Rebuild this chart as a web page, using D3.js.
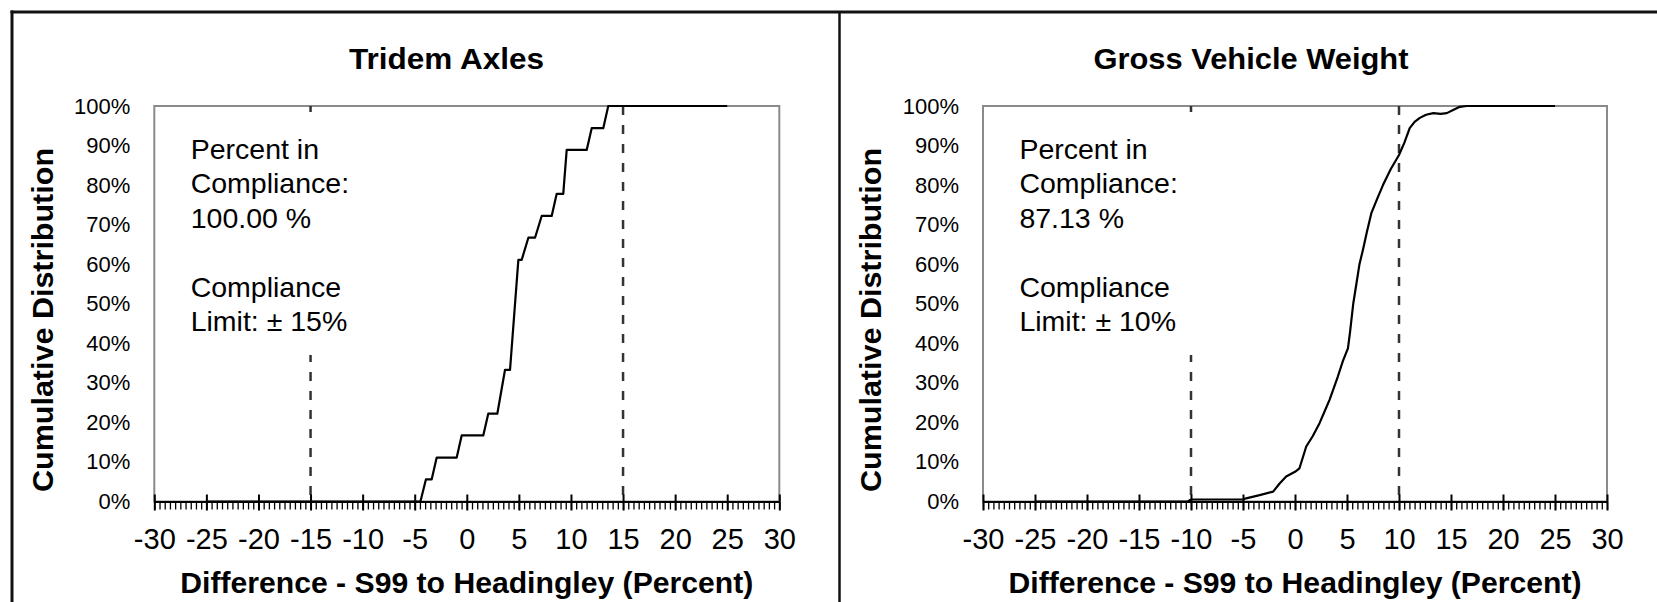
<!DOCTYPE html>
<html>
<head>
<meta charset="utf-8">
<script src="https://cdn.jsdelivr.net/npm/d3@7"></script>
<style>
  html, body { margin: 0; padding: 0; background: #fff; }
  svg { display: block; font-family: "Liberation Sans", Arial, sans-serif; }
</style>
</head>
<body>
<svg id="chart" width="1657" height="602"></svg>
<script>
// ---- Text content ----
const panelTitles = ["Tridem Axles", "Gross Vehicle Weight"];
const complianceValues = ["100.00 %", "87.13 %"];
const complianceLimits = [15, 10];
const xAxisTitle = "Difference - S99 to Headingley (Percent)";
const yAxisTitle = "Cumulative Distribution";

// ---- Axis ticks ----
const xTickValues = [-30, -25, -20, -15, -10, -5, 0, 5, 10, 15, 20, 25, 30];
const xMinorStep = 0.5;
const yTickValues = [0, 10, 20, 30, 40, 50, 60, 70, 80, 90, 100];

// ---- Tridem axles: difference (%) and cumulative share (%) ----
const tridemDiff = [-25, -4.45, -3.92, -3.37, -2.89, -0.97, -0.49, 1.58, 2.06, 2.93,
  3.67, 4.15, 4.95, 5.27, 5.91, 6.55, 7.19, 8.15, 8.63, 9.26, 9.59, 11.51, 11.99,
  13.1, 13.58, 25];
const tridemCum = [0, 0, 5.6, 5.6, 11.1, 11.1, 16.7, 16.7, 22.2, 22.2,
  33.3, 33.3, 61.1, 61.1, 66.7, 66.7, 72.2, 72.2, 77.8, 77.8, 88.9, 88.9, 94.4,
  94.4, 100, 100];

// ---- Gross vehicle weight: difference (%) and cumulative share (%) ----
const gvwDiff = [-25, -10.3, -10, -5, -4.7, -3.4, -2.1, -1.5, -0.85, 0, 0.43, 1.08,
  1.7, 2.36, 2.8, 3.32, 3.7, 4.12, 4.6, 5.09, 5.3, 5.6, 5.9, 6.2, 6.53, 6.9, 7.34,
  7.9, 8.46, 9.2, 10.0, 10.5, 11.03, 11.5, 12.0, 12.6, 13.3, 14.0, 14.6, 15.2,
  15.85, 16.5, 25];
const gvwCum = [0, 0, 0.5, 0.5, 0.8, 1.6, 2.5, 4.5, 6.3, 7.5, 8.4, 13.9,
  16.5, 19.8, 22.5, 25.7, 28.5, 31.6, 35.5, 38.7, 43, 50, 55, 60, 63.6, 68, 72.9,
  76.5, 80, 84, 87.6, 90.6, 94.4, 96, 97, 97.8, 98.2, 98, 98.2, 99,
  99.8, 100, 100];

const seriesDiff = [tridemDiff, gvwDiff];
const seriesCum = [tridemCum, gvwCum];

// ---- Layout ----
const svg = d3.select("#chart");
const plotTop = 106, plotBottom = 501.5;
const panels = [
  { left: 154.3, right: 779.3, titleX: 446.5, titleLen: 195 },
  { left: 983, right: 1607, titleX: 1251, titleLen: 315 }
];
const fontFamily = '"Liberation Sans", Arial, sans-serif';

svg.append("rect").attr("width", 1657).attr("height", 602).attr("fill", "#fff");

// Outer frame around both panels
const frame = svg.append("g").attr("stroke", "#111").attr("fill", "none");
frame.append("line").attr("x1", 10.5).attr("x2", 1657).attr("y1", 12).attr("y2", 12).attr("stroke-width", 3);
frame.append("line").attr("x1", 12).attr("x2", 12).attr("y1", 10.5).attr("y2", 602).attr("stroke-width", 3);
frame.append("line").attr("x1", 839.5).attr("x2", 839.5).attr("y1", 12).attr("y2", 602).attr("stroke-width", 2.5);

panels.forEach((p, i) => {
  const x = d3.scaleLinear().domain([-30, 30]).range([p.left, p.right]);
  const y = d3.scaleLinear().domain([0, 100]).range([plotBottom, plotTop]);
  const g = svg.append("g");

  // Plot area border
  g.append("rect")
    .attr("x", p.left).attr("y", plotTop)
    .attr("width", p.right - p.left).attr("height", plotBottom - plotTop)
    .attr("fill", "none").attr("stroke", "#8a8a8a").attr("stroke-width", 2);

  // Compliance limit lines
  const lim = complianceLimits[i];
  g.selectAll("line.limit").data([-lim, lim]).join("line")
    .attr("class", "limit")
    .attr("x1", d => x(d)).attr("x2", d => x(d))
    .attr("y1", plotTop).attr("y2", plotBottom)
    .attr("stroke", "#333").attr("stroke-width", 2.5)
    .attr("stroke-dasharray", "9,10");

  // Annotation box
  const boxX = p.left + 26;
  g.append("rect").attr("x", boxX).attr("y", 112).attr("width", 232).attr("height", 243)
    .attr("fill", "#fff");
  const lines = ["Percent in", "Compliance:", complianceValues[i], "",
                 "Compliance", "Limit: \u00b1 " + lim + "%"];
  const baselines = [158.5, 193, 227.5, 262, 296.5, 331];
  g.selectAll("text.note").data(lines).join("text")
    .attr("class", "note")
    .attr("x", p.left + 36.4)
    .attr("y", (d, k) => baselines[k])
    .attr("font-size", 28.5)
    .attr("fill", "#000")
    .text(d => d);

  // Cumulative distribution curve
  const pts = seriesDiff[i].map((d, k) => [d, seriesCum[i][k]]);
  g.append("path")
    .datum(pts)
    .attr("fill", "none")
    .attr("stroke", "#000")
    .attr("stroke-width", 2.2)
    .attr("stroke-linejoin", "round")
    .attr("d", d3.line().x(d => x(d[0])).y(d => y(d[1])));

  // Minor ticks on the x axis
  const minorVals = d3.range(-30, 30 + xMinorStep / 2, xMinorStep);
  g.append("g")
    .attr("transform", `translate(0,${plotBottom})`)
    .call(d3.axisBottom(x).tickValues(minorVals).tickSize(8).tickFormat(""))
    .call(a => a.select(".domain").remove())
    .call(a => a.selectAll("line").attr("stroke", "#000").attr("stroke-width", 1.3));

  // Major ticks, crossing above the axis
  g.append("g")
    .attr("transform", `translate(0,${plotBottom})`)
    .call(d3.axisTop(x).tickValues(xTickValues).tickSize(7).tickFormat(""))
    .call(a => a.select(".domain").remove())
    .call(a => a.selectAll("line").attr("stroke", "#000").attr("stroke-width", 2));

  // Major ticks and labels below the axis
  g.append("g")
    .attr("transform", `translate(0,${plotBottom})`)
    .call(d3.axisBottom(x).tickValues(xTickValues).tickSize(9).tickSizeOuter(0)
      .tickPadding(18).tickFormat(d => String(d)))
    .call(a => a.select(".domain").attr("stroke", "#000").attr("stroke-width", 2))
    .call(a => a.selectAll("line").attr("stroke", "#000").attr("stroke-width", 2))
    .call(a => a.selectAll("text").attr("font-size", 29).attr("font-family", fontFamily).attr("fill", "#000"));

  // Y axis labels
  g.append("g")
    .attr("transform", `translate(${p.left},0)`)
    .call(d3.axisLeft(y).tickValues(yTickValues).tickSize(0).tickPadding(24)
      .tickFormat(d => d + "%"))
    .call(a => a.select(".domain").remove())
    .call(a => a.selectAll("text").attr("font-size", 22).attr("font-family", fontFamily).attr("fill", "#000"));

  // Panel title
  g.append("text")
    .attr("x", p.titleX).attr("y", 69)
    .attr("text-anchor", "middle")
    .attr("font-size", 29).attr("font-weight", "bold")
    .attr("textLength", p.titleLen).attr("lengthAdjust", "spacingAndGlyphs")
    .text(panelTitles[i]);

  // Axis titles
  g.append("text")
    .attr("x", (p.left + p.right) / 2).attr("y", 593)
    .attr("text-anchor", "middle")
    .attr("font-size", 30).attr("font-weight", "bold")
    .attr("textLength", 573).attr("lengthAdjust", "spacingAndGlyphs")
    .text(xAxisTitle);

  g.append("text")
    .attr("transform", `translate(${p.left - 101.8},320) rotate(-90)`)
    .attr("text-anchor", "middle")
    .attr("font-size", 30).attr("font-weight", "bold")
    .attr("textLength", 344).attr("lengthAdjust", "spacingAndGlyphs")
    .text(yAxisTitle);
});
</script>
</body>
</html>
